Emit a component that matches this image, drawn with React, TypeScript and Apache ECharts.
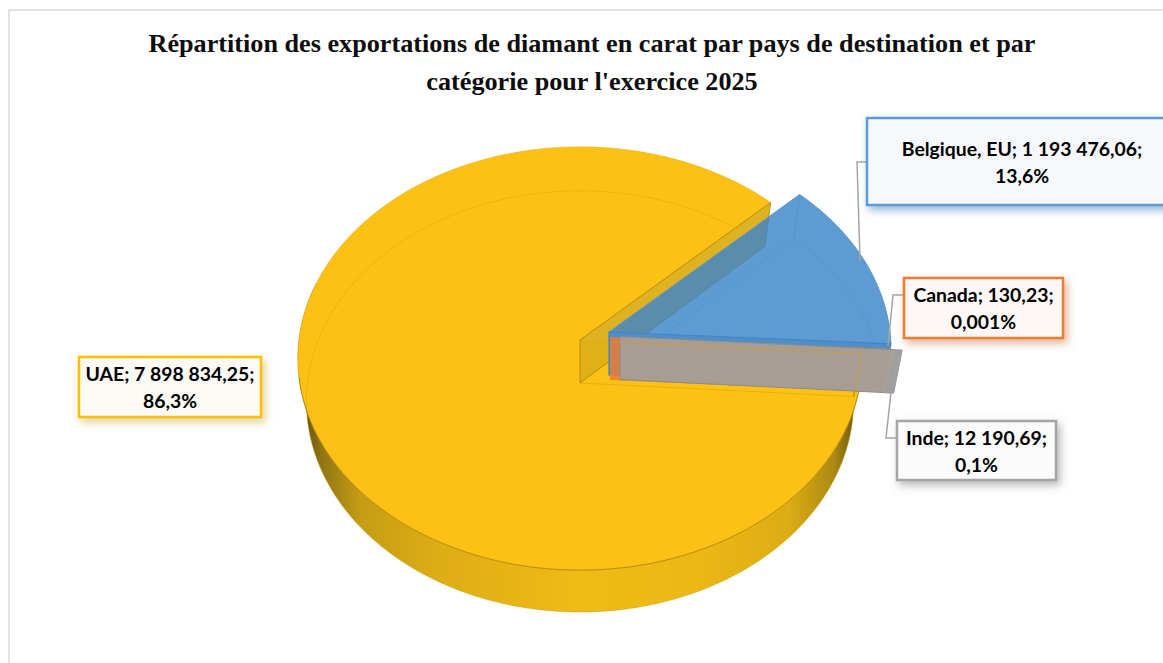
import React, { useEffect, useRef } from "react";
import * as echarts from "echarts";

const categories = ["UAE", "Belgique, EU", "Canada", "Inde"];
const carats = [7898834.25, 1193476.06, 130.23, 12190.69];
const valueLabels = ["7 898 834,25", "1 193 476,06", "130,23", "12 190,69"];
const shareLabels = ["86,3%", "13,6%", "0,001%", "0,1%"];
const titleLines = [
  "Répartition des exportations de diamant en carat par pays de destination et par",
  "catégorie pour l'exercice 2025",
];

const START_DEG = -3.7;
const CX = 580, CY = 340, RX = 281, RY = 210, K = 0.0875, DEPTH = 43, BOTTOM_X = 0.97, BOTTOM_Y = 0.995;
const OFFSETS = [[0, 0], [29, -8], [30, -3], [40, -3.5]];
const total = carats.reduce((a, b) => a + b, 0);

const rad = (d: number) => (d * Math.PI) / 180;
function project(deg: number, off: number[], bottom: boolean): number[] {
  const c = Math.cos(rad(deg)), s = -Math.sin(rad(deg));
  const d = 1 - K * s;
  const sx = bottom ? BOTTOM_X : 1, sy = bottom ? BOTTOM_Y : 1;
  return [CX + off[0] + (RX * sx * c) / d, CY + off[1] + (bottom ? DEPTH : 0) + (RY * sy * s) / d];
}
function apex(off: number[], bottom: boolean): number[] {
  return [CX + off[0], CY + off[1] + (bottom ? DEPTH : 0)];
}
function arc(a: number, b: number, off: number[], bottom: boolean): number[][] {
  const n = Math.max(2, Math.ceil(Math.abs(b - a) / 1.5));
  const out: number[][] = [];
  for (let i = 0; i <= n; i++) out.push(project(a + ((b - a) * i) / n, off, bottom));
  return out;
}
const poly = (points: number[][], style: any) => ({ type: "polygon", shape: { points }, style, silent: true });
const line = (points: number[][], stroke: string, lineWidth = 1) => ({
  type: "polyline", shape: { points }, style: { fill: "none", stroke, lineWidth }, silent: true,
});

function sliceAngles(idx: number): [number, number] {
  let a = START_DEG;
  for (let i = 0; i < idx; i++) a -= (carats[i] / total) * 360;
  return [a, a - (carats[idx] / total) * 360];
}

const sideGradient = () =>
  new echarts.graphic.LinearGradient(0, 0, 1, 0, [
    { offset: 0, color: "#54430f" },
    { offset: 0.04, color: "#8f7413" },
    { offset: 0.11, color: "#c59c14" },
    { offset: 0.25, color: "#ddad15" },
    { offset: 0.5, color: "#f1bb16" },
    { offset: 0.72, color: "#ecb715" },
    { offset: 0.87, color: "#dcad14" },
    { offset: 0.95, color: "#ad8913" },
    { offset: 1, color: "#5a4a10" },
  ]);

function renderItem(params: any) {
  const i = params.dataIndex;
  const [a0, a1] = sliceAngles(i);
  const off = OFFSETS[i];
  const A = apex(off, false), B = apex(off, true);
  const p0 = project(a0, off, false), p0b = project(a0, off, true);
  const p1 = project(a1, off, false), p1b = project(a1, off, true);
  const children: any[] = [];
  if (i === 0) {
    const sideTop = arc(a0, -196, off, false);
    const sideBot = arc(a0, -196, off, true).reverse();
    children.push(poly([...sideTop, ...sideBot], { fill: sideGradient(), stroke: "#c79d12", lineWidth: 0.5 }));
    children.push(poly([A, ...arc(a0, a1, off, false)], { fill: "#fdc116", stroke: "#e8b010", lineWidth: 0.6 }));
    children.push(line(arc(-172, a1, off, true), "rgba(205,155,10,0.35)"));
    children.push(line([p0b, B], "rgba(205,155,10,0.45)"));
    children.push(poly([A, p1, p1b, B], { fill: "rgba(222,175,24,0.96)", stroke: "rgba(165,125,10,0.75)", lineWidth: 1 }));
    children.push(line(arc(a0, -170, off, false), "rgba(130,100,10,0.6)", 0.8));
    children.push(line([p0, p0b], "#8f7010", 1));
  } else if (i === 1) {
    children.push(poly([B, ...arc(a0, a1, off, true)], { fill: "none", stroke: "rgba(60,120,180,0.30)", lineWidth: 1 }));
    children.push(poly([A, ...arc(a0, a1, off, false)], { fill: "rgba(60,133,201,0.82)", stroke: "#5a97cf", lineWidth: 1 }));
    children.push(line([p0, p0b], "rgba(60,120,180,0.35)"));
    children.push(poly([A, p1, p1b, B], { fill: "#4e8fca", stroke: "#3f86c6", lineWidth: 1.2 }));
  } else if (i === 2) {
    children.push(poly([A, p1, p1b, B], { fill: "rgba(237,125,49,0.85)", stroke: "none" }));
  } else {
    children.push(poly([A, p1, p1b, B], { fill: "rgba(165,158,152,0.97)", stroke: "#8f8b88", lineWidth: 1 }));
    const inner = [[p1[0] - 5, p1[1]], p1, p1b, [p1b[0] - 8, p1b[1]]];
    children.push(poly(inner, { fill: "rgba(160,160,160,0.95)", stroke: "#9a9a9a", lineWidth: 0.6 }));
    const uae = sliceAngles(0)[0];
    const base = OFFSETS[0];
    const from = [CX + 35, CY + 2];
    children.push(line([from, project(uae, base, false), project(uae, base, true)], "rgba(215,160,10,0.6)", 1));
  }
  return { type: "group", children };
}

const LABEL_BOXES = [
  { x: 79, y: 357, w: 182, h: 60, color: "#ffc000", fill: "#fcfaf4", shadow: "rgba(190,150,30,0.45)" },
  { x: 867, y: 118, w: 310, h: 87, color: "#5b9bd5", fill: "#f6f8fc", shadow: "rgba(60,120,190,0.55)", cx: 1022 },
  { x: 904, y: 278, w: 159, h: 60, color: "#ed7d31", fill: "#fdf8f5", shadow: "rgba(190,100,40,0.5)" },
  { x: 897, y: 421, w: 159, h: 59, color: "#a5a5a5", fill: "#fbfbfb", shadow: "rgba(110,110,110,0.5)" },
];
const LEADERS: number[][][] = [
  [],
  [[866, 162], [857, 162], [860, 260]],
  [[904, 295], [893, 295], [888, 346]],
  [[897, 438], [886, 438], [891, 392]],
];

export default function App() {
  const ref = useRef<HTMLDivElement>(null);
  useEffect(() => {
    const chart = echarts.init(ref.current!, null, { renderer: "svg" });
    const graphic: any[] = [
      { type: "rect", shape: { x: 9, y: 10, width: 1300, height: 800 }, style: { fill: "none", stroke: "#d9d9d9", lineWidth: 1.5 }, silent: true, z: 1 },
    ];
    LEADERS.forEach((pts) => {
      if (pts.length) graphic.push({ type: "polyline", shape: { points: pts }, style: { fill: "none", stroke: "#a5a5a5", lineWidth: 1.5 }, z: 20, silent: true });
    });
    LABEL_BOXES.forEach((b, i) => {
      graphic.push({
        type: "rect", shape: { x: b.x, y: b.y, width: b.w, height: b.h }, z: 21, silent: true,
        style: { fill: b.fill, stroke: b.color, lineWidth: 2.5, shadowBlur: 8, shadowOffsetX: 3, shadowOffsetY: 4, shadowColor: b.shadow },
      });
      graphic.push({
        type: "text", x: b.cx ?? b.x + b.w / 2, y: b.y + b.h / 2, z: 22, silent: true,
        style: {
          text: `${categories[i]}; ${valueLabels[i]};\n${shareLabels[i]}`,
          font: "bold 19.4px Lato", lineHeight: 27, fill: "#000", align: "center", verticalAlign: "middle",
        },
      });
    });
    titleLines.forEach((t, i) => {
      graphic.push({
        type: "text", x: 592, y: 43 + i * 38, z: 22, silent: true,
        style: { text: t, font: "bold 26.2px 'Liberation Serif'", fill: "#0d0d0d", align: "center", verticalAlign: "middle" },
      });
    });
    chart.setOption({
      animation: false,
      backgroundColor: "#ffffff",
      graphic,
      series: [{
        type: "custom",
        coordinateSystem: "none",
        renderItem,
        silent: true,
        data: carats.map((v, i) => ({ name: categories[i], value: [v] })),
        z: 5,
      }],
    });
    return () => chart.dispose();
  }, []);
  return <div ref={ref} style={{ position: "fixed", left: 0, top: 0, width: 1163, height: 663 }} />;
}
